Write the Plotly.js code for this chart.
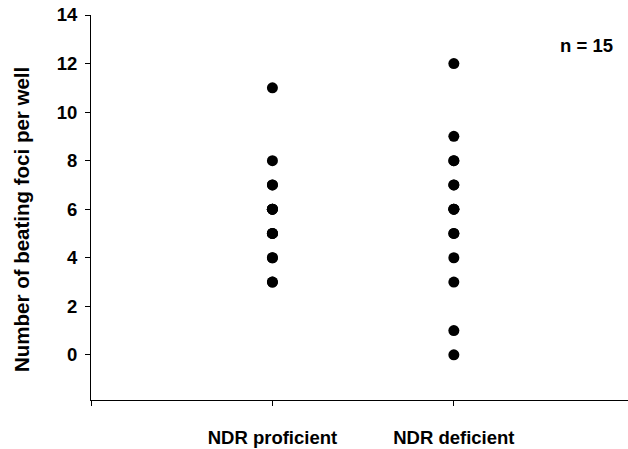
<!DOCTYPE html>
<html>
<head>
<meta charset="utf-8">
<script src="https://cdn.plot.ly/plotly-3.0.1.min.js"></script>
<style>html,body{margin:0;padding:0;background:#fff;}#chart{width:628px;height:449px;}</style>
</head>
<body>
<div id="chart"></div>
<script>
const categories = ['NDR proficient', 'NDR deficient'];
const proficientValues = [3, 3, 4, 4, 5, 5, 5, 6, 6, 6, 6, 7, 7, 8, 11];
const deficientValues = [0, 1, 3, 4, 5, 5, 6, 6, 6, 7, 7, 8, 8, 9, 12];
const yTicks = [0, 2, 4, 6, 8, 10, 12, 14];
const yTitle = 'Number of beating foci per well';
const annotationText = 'n = 15';

const fam = 'Liberation Sans, Arial, sans-serif';
const tickFont = {family: fam, size: 18.5, color: '#000', weight: 'bold'};
const titleFont = {family: fam, size: 20.5, color: '#000', weight: 'bold'};

function series(idx, vals) {
  return {
    type: 'scatter', mode: 'markers',
    x: vals.map(() => idx + 1), y: vals,
    marker: {color: '#000', size: 11},
    hoverinfo: 'y', showlegend: false
  };
}

const data = [series(0, proficientValues), series(1, deficientValues)];

const layout = {
  width: 628, height: 449,
  margin: {l: 91, r: 0, t: 15, b: 49},
  paper_bgcolor: '#fff', plot_bgcolor: '#fff',
  font: tickFont,
  xaxis: {
    range: [0, 2.96],
    tickvals: [0, 1, 2],
    ticktext: [''].concat(categories),
    ticks: 'outside', ticklen: 5, tickcolor: '#000', tickwidth: 1,
    ticklabelstandoff: 16,
    showline: true, linecolor: '#000', linewidth: 1,
    showgrid: false, zeroline: false,
    tickfont: tickFont
  },
  yaxis: {
    range: [-1.86, 14],
    tickvals: yTicks,
    ticks: 'outside', ticklen: 5, tickcolor: '#000', tickwidth: 1,
    ticklabelstandoff: 4,
    showline: true, linecolor: '#000', linewidth: 1,
    showgrid: false, zeroline: false,
    tickfont: tickFont
  },
  annotations: [{
    text: annotationText, xref: 'paper', yref: 'paper',
    x: 0.922, y: 0.922, xanchor: 'center', yanchor: 'middle',
    showarrow: false, font: tickFont
  }, {
    text: yTitle, xref: 'paper', yref: 'paper',
    x: -0.1304, y: 0.47, xanchor: 'center', yanchor: 'middle',
    textangle: -90, showarrow: false, font: titleFont
  }]
};

Plotly.newPlot('chart', data, layout, {displayModeBar: false, staticPlot: true});
</script>
</body>
</html>
